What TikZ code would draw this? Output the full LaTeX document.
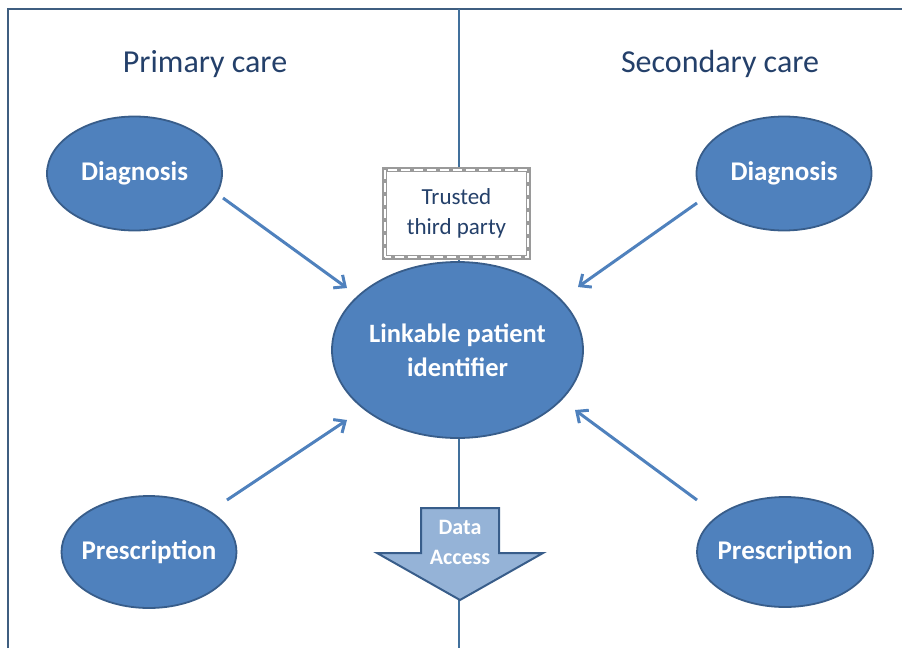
\documentclass[tikz,border=0pt]{standalone}
\usepackage{fontspec}
\setmainfont{Carlito}
\usetikzlibrary{arrows.meta,shapes.geometric}
\definecolor{ellfill}{HTML}{4F81BD}
\definecolor{ellline}{HTML}{385D8A}
\definecolor{frame}{HTML}{3F5E80}
\definecolor{midline}{HTML}{41709C}
\definecolor{headtxt}{HTML}{24406A}
\definecolor{arrfill}{HTML}{95B3D7}
\definecolor{chain}{HTML}{9A9A9A}
\newcommand{\zw}[1]{\makebox[0pt]{#1}}
\tikzset{
  oval/.style={ellipse, draw=ellline, line width=1.8pt, fill=ellfill, text=white,
    font=\bfseries\fontsize{27}{30}\selectfont, inner sep=0pt},
  head/.style={text=headtxt, font=\fontsize{32}{38}\selectfont},
  arr/.style={draw=ellfill, line width=3pt, -{Straight Barb[length=9pt,width=16pt,line width=3pt]}},
}
\begin{document}
\begin{tikzpicture}[x=1pt,y=-1pt]
\useasboundingbox (0,0) rectangle (902,648);
% frame
\draw[frame, line width=2.5pt] (8,648) -- (8,9) -- (902,9);
% middle line
\draw[midline, line width=1.6pt] (459,9) -- (459,648);
% headings
\node[head] (pc) at (205,64) {Primary care};
\node[head] (sc) at (720,64) {Secondary care};
% ellipses
\node[oval, minimum width=175pt, minimum height=114pt] (dl) at (134.5,173.5) {\zw{Diagnosis}};
\node[oval, minimum width=175pt, minimum height=114pt] (dr) at (784,173.5) {\zw{Diagnosis}};
\node[oval, minimum width=175pt, minimum height=112pt] (pl) at (149,552) {\zw{Prescription}};
\node[oval, minimum width=176pt, minimum height=110pt] (pr) at (785,552) {\zw{Prescription}};
\node[oval, minimum width=251pt, minimum height=176pt, align=center,
  font=\bfseries\fontsize{26.5}{34}\selectfont] (c) at (457.5,350) {\zw{Linkable patient}\\\zw{identifier}};
% trusted third party box
\node[minimum width=143pt, minimum height=87pt, fill=white, align=center, text=headtxt,
  font=\fontsize{23}{30}\selectfont] (t) at (456.5,213.5) {Trusted\\third party};
\draw[chain, line width=5pt] (t.south west) rectangle (t.north east);
\draw[white, line width=1.8pt, dash pattern=on 9pt off 4pt] (t.south west) rectangle (t.north east);
% data access arrow
\draw[ellline, line width=2pt, fill=arrfill, line join=miter]
  (421,508) -- (499,508) -- (499,553) -- (543,553) -- (460,600) -- (377,553) -- (421,553) -- cycle;
\node[text=white, align=center, font=\bfseries\fontsize{22}{30}\selectfont] (da) at (460,542) {Data\\Access};
% arrows
\coordinate (a1s) at (223,198); \coordinate (a1e) at (347,288);
\coordinate (a2s) at (227,500); \coordinate (a2e) at (347,420);
\coordinate (a3s) at (697,203); \coordinate (a3e) at (578,287);
\coordinate (a4s) at (697,500); \coordinate (a4e) at (575,410);
\draw[arr] (a1s) -- (a1e);
\draw[arr] (a2s) -- (a2e);
\draw[arr] (a3s) -- (a3e);
\draw[arr] (a4s) -- (a4e);
\end{tikzpicture}
\end{document}
